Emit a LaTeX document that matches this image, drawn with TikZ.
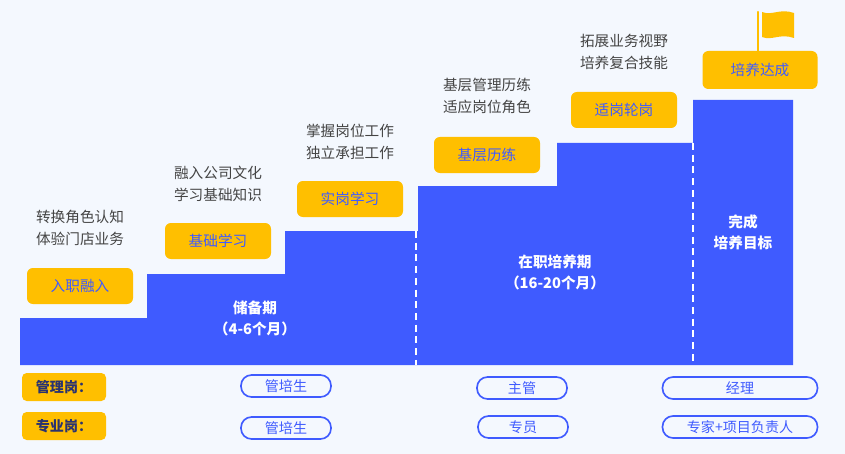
\documentclass[tikz,border=0pt]{standalone}
\usepackage{fontspec}
\setmainfont{Noto Sans CJK SC}
\usepackage{tikz}
\definecolor{stepblue}{HTML}{3F5BFF}
\definecolor{gold}{HTML}{FFBF00}
\definecolor{bgpale}{HTML}{F4F8FE}
\definecolor{txtgray}{HTML}{444444}
\definecolor{navy}{HTML}{2A3370}
\tikzset{
  stage/.style={fill=gold, rounded corners=5pt, minimum width=106*0.03cm, minimum height=36*0.03cm, text=stepblue, font=\fontsize{12.5}{14}\selectfont},
  note/.style={text=txtgray, font=\fontsize{12.5}{14}\selectfont, align=center},
  phase/.style={text=white, font=\fontsize{12.5}{14}\selectfont\bfseries, align=center},
  role/.style={draw=stepblue, line width=1.4pt, rounded corners=9pt, minimum width=90*0.03cm, minimum height=22*0.03cm, inner sep=0pt, text=stepblue, font=\fontsize{12}{13}\selectfont},
  track/.style={fill=gold, rounded corners=4pt, minimum width=84*0.03cm, minimum height=28*0.03cm, inner sep=0pt, text=navy, font=\fontsize{12}{13}\selectfont\bfseries},
}
\begin{document}
\begin{tikzpicture}[x=0.03cm,y=-0.03cm]
				\fill[bgpale] (0,0) rectangle (845,454);
				% staircase
				\fill[stepblue] (20,365) -- (20,318) -- (147,318) -- (147,274) -- (285,274)
				  -- (285,231) -- (418,231) -- (418,186) -- (557,186) -- (557,143)
				  -- (693,143) -- (693,100) -- (793,100) -- (793,365) -- cycle;
				\draw[white, dash pattern=on 6pt off 4pt, line width=1.2pt] (416,231) -- (416,365);
				\draw[white, dash pattern=on 6pt off 4pt, line width=1.2pt] (693,143) -- (693,365);
				
				% flag
				\draw[gold, line width=2pt, line cap=round] (758,12) -- (758,52);
				\fill[gold] (762,12) .. controls (772,16) and (780,8) .. (794,13) -- (794,38)
				  .. controls (780,33) and (772,41) .. (762,37) -- cycle;
				
				% phases
				\node[phase] (p1) at (255,318) {储备期\\[4pt]（4-6个月）};
				\node[phase] (p2) at (555,272) {在职培养期\\[4pt]（16-20个月）};
				\node[phase] (p3) at (743,232) {完成\\[4pt]培养目标};
				
				% stages
				\foreach \n/\x/\y/\t in
				{s1/80/286/入职融入, s2/218/241/基础学习, s3/350/199/实岗学习,
				 s4/487/155/基层历练, s5/624/110/适岗轮岗}{
					\node[stage] (\n) at (\x,\y) {\t};
				}
				\node[stage, minimum width=115*0.03cm, minimum height=38*0.03cm] (s6) at (760,70) {培养达成};
				
				% notes
				\node[note] (n1) at (80,228) {转换角色认知\\[5pt]体验门店业务};
				\node[note] (n2) at (218,184) {融入公司文化\\[5pt]学习基础知识};
				\node[note] (n3) at (350,142) {掌握岗位工作\\[5pt]独立承担工作};
				\node[note] (n4) at (487,96) {基层管理历练\\[5pt]适应岗位角色};
				\node[note] (n5) at (624,52) {拓展业务视野\\[5pt]培养复合技能};
				
				% tracks
				\node[track] (t1) at (64,387) {管理岗：};
				\node[track] (t2) at (64,426) {专业岗：};
				\node[role] (r1) at (286,386) {管培生};
				\node[role] (r2) at (522,388) {主管};
				\node[role, minimum width=155*0.03cm] (r3) at (740,388) {经理};
				\node[role] (r4) at (286,428) {管培生};
				\node[role] (r5) at (523,427) {专员};
				\node[role, minimum width=155*0.03cm] (r6) at (740,427) {专家+项目负责人};
\end{tikzpicture}
\end{document}
